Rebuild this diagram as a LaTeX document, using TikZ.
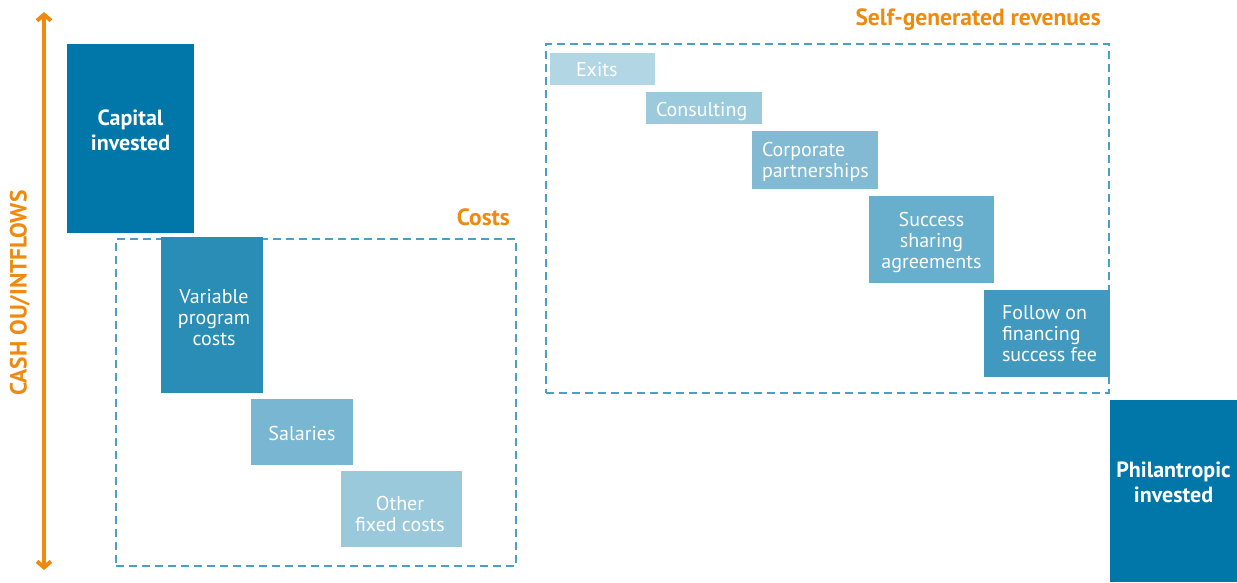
\documentclass[tikz,border=0pt]{standalone}
\usepackage{fontspec}
\setmainfont{PT Sans}
\usetikzlibrary{arrows.meta}
\definecolor{dark}{HTML}{0077A8}
\definecolor{cA}{HTML}{2A8DB5}
\definecolor{cB}{HTML}{78B6D1}
\definecolor{cC}{HTML}{9BC9DC}
\definecolor{rA}{HTML}{B3D6E5}
\definecolor{rB}{HTML}{9CCADD}
\definecolor{rC}{HTML}{82BAD3}
\definecolor{rD}{HTML}{68AECD}
\definecolor{rE}{HTML}{4299BF}
\definecolor{dash}{HTML}{4A9FC4}
\definecolor{orng}{HTML}{EE8A0F}
\tikzset{
  box/.style={rectangle, inner sep=0pt, draw=none},
  txt/.style={text=white, font=\fontsize{20}{21}\selectfont, inner sep=0pt, align=left},
  ctxt/.style={text=white, font=\fontsize{20}{21}\selectfont, inner sep=0pt, align=center},
  btxt/.style={text=white, font=\fontsize{22}{25}\bfseries\selectfont, inner sep=0pt, align=center},
  group/.style={rectangle, inner sep=0pt, draw=dash, line width=2.5pt, dash pattern=on 8pt off 5pt},
  title/.style={text=orng, font=\fontsize{23.5}{26}\bfseries\selectfont, inner sep=0pt},
}
\begin{document}
\begin{tikzpicture}[x=1pt,y=-1pt]
\useasboundingbox (0,0) rectangle (1237,582);
% axis
\coordinate (top) at (44,12);
\coordinate (bot) at (44,570);
\draw[orng, line width=4pt, {Straight Barb[length=6pt,width=14pt]}-{Straight Barb[length=6pt,width=14pt]}] (top) -- (bot);
\node[title, rotate=90] (axis) at (20,293) {CASH OU/INTFLOWS};
% group boxes
\node[group, minimum width=400pt, minimum height=327pt] (costs) at (316,402.5) {};
\node[group, minimum width=563pt, minimum height=349pt] (rev) at (827.5,218.5) {};
\node[title, anchor=east] (costsT) at (510,217) {Costs};
\node[title, anchor=east] (revT) at (1101,20) {Self-generated revenues};
% left boxes
\node[box, fill=dark, minimum width=127pt, minimum height=189pt] (cap) at (130.5,138.5) {};
\node[btxt] (capT) at (130.5,130) {Capital\\invested};
\node[box, fill=cA, minimum width=102pt, minimum height=156pt] (var) at (212,315) {};
\node[ctxt] (varT) at (214,318) {Variable\\program\\costs};
\node[box, fill=cB, minimum width=102pt, minimum height=66pt] (sal) at (302,432) {};
\node[ctxt] (salT) at (302,433) {Salaries};
\node[box, fill=cC, minimum width=121pt, minimum height=76pt] (oth) at (401.5,509) {};
\node[ctxt] (othT) at (400,514) {Other\\fixed costs};
% revenue boxes
\node[box, fill=rA, minimum width=105pt, minimum height=32pt] (exits) at (602.5,69) {};
\node[txt, anchor=west] (exitsT) at ([xshift=26pt,yshift=-1pt]exits.west) {Exits};
\node[box, fill=rB, minimum width=116pt, minimum height=32pt] (cons) at (704,108) {};
\node[txt, anchor=west] (consT) at ([xshift=10pt,yshift=-3pt]cons.west) {Consulting};
\node[box, fill=rC, minimum width=126pt, minimum height=58pt] (corp) at (815,160) {};
\node[txt, anchor=west] (corpT) at ([xshift=10pt,yshift=-2pt]corp.west) {Corporate\\partnerships};
\node[box, fill=rD, minimum width=125pt, minimum height=87pt] (succ) at (931.5,239.5) {};
\node[ctxt] (succT) at (931.5,242.5) {Success\\sharing\\agreements};
\node[box, fill=rE, minimum width=126pt, minimum height=87pt] (fol) at (1047,333.5) {};
\node[txt, anchor=west] (folT) at ([xshift=18pt]fol.west) {Follow on\\financing\\success fee};
\node[box, fill=dark, minimum width=127pt, minimum height=182pt] (phil) at (1173.5,491) {};
\node[btxt] (philT) at (1173.5,482) {Philantropic\\invested};
\end{tikzpicture}
\end{document}
